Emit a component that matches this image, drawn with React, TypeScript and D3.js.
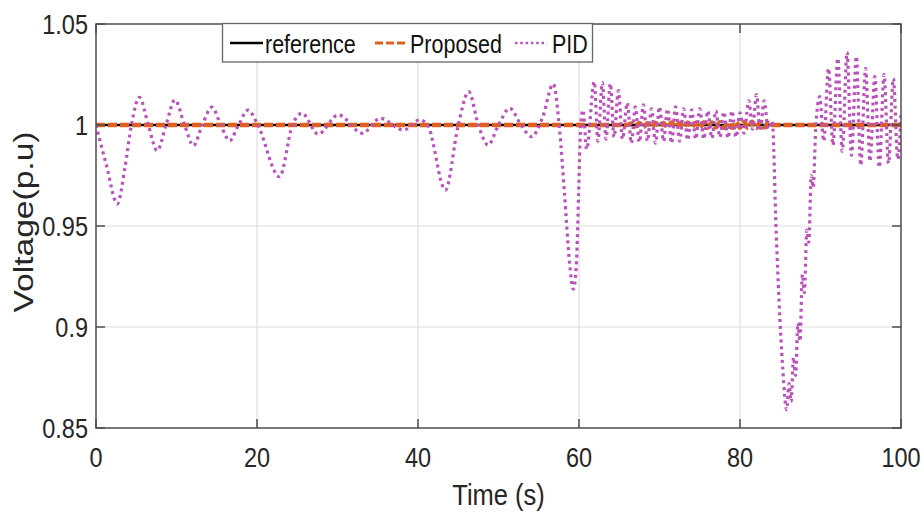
import React from 'react';
import * as d3 from 'd3';

type Pt = [number, number];

const X_TICKS = [0, 20, 40, 60, 80, 100];
const X_TICK_LABELS = ['0', '20', '40', '60', '80', '100'];
const Y_TICKS = [0.85, 0.9, 0.95, 1, 1.05];
const Y_TICK_LABELS = ['0.85', '0.9', '0.95', '1', '1.05'];
const X_GRID = [20, 40, 60, 80];
const Y_GRID = [0.9, 0.95, 1];
const SERIES_NAMES = ['reference', 'Proposed', 'PID'];
const X_LABEL = 'Time (s)';
const Y_LABEL = 'Voltage(p.u)';

const REFERENCE: Pt[] = [[0, 1], [100, 1]];

const PROPOSED: Pt[] = [
  [0, 1], [66, 1], [66.5, 1.0008], [67, 0.9993], [67.5, 1.001], [68, 0.9991], [68.5, 1.0009],
  [69, 0.999], [69.5, 1.0011], [70, 0.9992], [70.5, 1.001], [71, 0.9989], [71.5, 1.0012],
  [72, 0.999], [72.5, 1.001], [73, 0.9988], [73.5, 1.0012], [74, 0.9989], [74.5, 1.0011],
  [75, 0.9988], [75.5, 1.0013], [76, 0.9987], [76.5, 1.0012], [77, 0.9988], [77.5, 1.0013],
  [78, 0.9986], [78.5, 1.0012], [79, 0.9987], [79.5, 1.0014], [80, 0.9986], [80.5, 1.0015],
  [81, 0.9985], [81.5, 1.0016], [82, 0.9985], [82.5, 1.0014], [83, 0.9988], [83.5, 1.001],
  [84, 1], [100, 1],
];

const PID: Pt[] = [
  [0, 1.0], [1.3, 0.98], [2.65, 0.961], [3.6, 0.979], [4.4, 1.0], [5.4, 1.0137], [6.5, 1.0],
  [7.6, 0.9873], [8.7, 1.0], [9.8, 1.0124], [11.0, 1.0], [12.1, 0.9898], [13.2, 1.0],
  [14.4, 1.0088], [15.5, 1.0], [16.6, 0.9922], [17.7, 1.0], [18.9, 1.0074], [20.1, 1.0],
  [22.8, 0.9744], [24.4, 1.0], [25.6, 1.0058], [27.6, 0.9955], [30.1, 1.005], [33.1, 0.9959],
  [35.3, 1.0033], [38.2, 0.9975], [40.2, 1.0025], [41.2, 1.0], [43.4, 0.9678], [45.0, 1.0],
  [46.3, 1.0165], [47.5, 1.0], [48.7, 0.9901], [50.0, 1.0], [51.4, 1.0083], [52.8, 1.0],
  [54.1, 0.9942], [55.5, 1.004], [56.8, 1.0203], [57.6, 0.997], [58.2, 0.966], [58.8, 0.933],
  [59.3, 0.9187], [59.7, 0.933], [59.95, 0.966], [60.2, 0.999], [60.5, 1.0074], [60.95, 0.988],
  [61.9, 1.0215], [62.35, 0.992], [62.9, 1.021], [63.35, 0.993], [63.9, 1.0205], [64.35, 0.994],
  [64.9, 1.017], [65.4, 0.993], [66.0, 1.011], [66.5, 0.991], [67.0, 1.009], [67.5, 0.9915],
  [68.0, 1.01], [68.5, 0.992], [69.0, 1.008], [69.5, 0.991], [70.0, 1.009], [70.5, 0.992],
  [71.0, 1.008], [71.5, 0.991], [72.0, 1.009], [72.5, 0.992], [73.0, 1.008], [73.5, 0.9925],
  [74.0, 1.0075], [74.5, 0.993], [75.0, 1.008], [75.5, 0.993], [76.0, 1.007], [76.5, 0.9935],
  [77.0, 1.007], [77.5, 0.994], [78.0, 1.0065], [78.5, 0.9935], [79.0, 1.007], [79.5, 0.994],
  [80.0, 1.006], [80.5, 0.996], [81.1, 1.012], [81.55, 0.998], [82.05, 1.015], [82.5, 0.997],
  [83.0, 1.012], [83.5, 0.998], [84.0, 1.002], [84.5, 0.9465], [84.85, 0.913], [85.3, 0.88],
  [85.8, 0.859], [86.1, 0.872], [86.35, 0.863], [86.65, 0.885], [86.9, 0.876], [87.2, 0.902],
  [87.45, 0.893], [87.75, 0.926], [88.0, 0.917], [88.3, 0.948], [88.55, 0.942], [88.85, 0.975],
  [89.1, 0.969], [89.4, 0.998], [89.9, 1.014], [90.4, 0.992], [91.0, 1.028], [91.55, 0.99],
  [92.15, 1.033], [92.7, 0.987], [93.3, 1.036], [93.85, 0.985], [94.45, 1.034], [95.0, 0.98],
  [95.6, 1.028], [96.15, 0.982], [96.75, 1.024], [97.3, 0.979], [97.9, 1.025], [98.45, 0.981],
  [99.05, 1.023], [99.6, 0.983], [100, 1.005],
];

const W = 924;
const H = 512;
const L = 96;
const R = 901;
const T = 24;
const B = 428;
const SY = 1.18;
const FONT = '"Liberation Sans", Arial, Helvetica, sans-serif';

const C_REF = '#000000';
const C_PROP = '#e2601f';
const C_PID = '#bb52bb';
const C_AXIS = '#4e4e4e';
const C_TEXT = '#262626';
const C_GRID = '#dedede';

export default function App() {
  const x = d3.scaleLinear().domain([0, 100]).range([L, R]);
  const y = d3.scaleLinear().domain([0.85, 1.05]).range([B, T]);
  const straight = d3.line<Pt>().x((d) => x(d[0])).y((d) => y(d[1]));
  const smooth = d3
    .line<Pt>()
    .x((d) => x(d[0]))
    .y((d) => y(d[1]))
    .curve(d3.curveMonotoneX);

  const legY = 43;
  const legBase = 53;

  return (
    <svg
      width={W}
      height={H}
      viewBox={`0 0 ${W} ${H}`}
      style={{ position: 'absolute', left: 0, top: 0, display: 'block', background: '#fff' }}
      fontFamily={FONT}
    >
      <defs>
        <clipPath id="plotClip">
          <rect x={L} y={T} width={R - L} height={B - T} />
        </clipPath>
      </defs>
      <rect x={0} y={0} width={W} height={H} fill="#fff" />
      <rect x={L} y={T} width={R - L} height={B - T} fill="#fff" />

      {/* grid */}
      {X_GRID.map((g) => (
        <line key={'gx' + g} x1={x(g)} x2={x(g)} y1={T} y2={B} stroke={C_GRID} strokeWidth={1.2} />
      ))}
      {Y_GRID.map((g) => (
        <line key={'gy' + g} x1={L} x2={R} y1={y(g)} y2={y(g)} stroke={C_GRID} strokeWidth={1.2} />
      ))}

      {/* series */}
      <g clipPath="url(#plotClip)">
        <path d={straight(REFERENCE) || ''} fill="none" stroke={C_REF} strokeWidth={2.6} />
        <path
          d={smooth(PROPOSED) || ''}
          fill="none"
          stroke={C_PROP}
          strokeWidth={4.5}
          strokeDasharray="9 3"
        />
        <path
          d={smooth(PID) || ''}
          fill="none"
          stroke={C_PID}
          strokeWidth={3.2}
          strokeDasharray="3 3.8"
        />
      </g>

      {/* axes box */}
      <rect x={L} y={T} width={R - L} height={B - T} fill="none" stroke={C_AXIS} strokeWidth={1.5} />
      {X_TICKS.map((t) => (
        <g key={'xt' + t}>
          <line x1={x(t)} x2={x(t)} y1={B} y2={B - 9} stroke={C_AXIS} strokeWidth={1.5} />
          <line x1={x(t)} x2={x(t)} y1={T} y2={T + 9} stroke={C_AXIS} strokeWidth={1.5} />
        </g>
      ))}
      {Y_TICKS.map((t) => (
        <g key={'yt' + t}>
          <line x1={L} x2={L + 9} y1={y(t)} y2={y(t)} stroke={C_AXIS} strokeWidth={1.5} />
          <line x1={R} x2={R - 9} y1={y(t)} y2={y(t)} stroke={C_AXIS} strokeWidth={1.5} />
        </g>
      ))}

      {/* tick labels */}
      {X_TICKS.map((t, i) => (
        <text
          key={'xl' + t}
          transform={`translate(${x(t)},467) scale(1,${SY})`}
          textAnchor="middle"
          fontSize={23.5}
          fill={C_TEXT}
        >
          {X_TICK_LABELS[i]}
        </text>
      ))}
      {Y_TICKS.map((t, i) => (
        <text
          key={'yl' + t}
          transform={`translate(${L - 8},${y(t)}) scale(1,${SY})`}
          textAnchor="end"
          dy="0.36em"
          fontSize={23.5}
          fill={C_TEXT}
        >
          {Y_TICK_LABELS[i]}
        </text>
      ))}

      {/* axis labels */}
      <text
        transform={`translate(${(L + R) / 2},505) scale(1,1.14)`}
        textAnchor="middle"
        fontSize={25.5}
        fill={C_TEXT}
      >
        {X_LABEL}
      </text>
      <text
        transform={`translate(33,222) scale(1,1.2) rotate(-90)`}
        textAnchor="middle"
        fontSize={28}
        fill={C_TEXT}
      >
        {Y_LABEL}
      </text>

      {/* legend */}
      <g>
        <rect x={222.5} y={23.5} width={370} height={38.5} fill="#fff" stroke="#666" strokeWidth={1.3} />
        <line x1={230} x2={263} y1={legY} y2={legY} stroke={C_REF} strokeWidth={2.5} />
        <text transform={`translate(265,${legBase}) scale(1,${SY})`} fontSize={21.5} fill="#111">
          {SERIES_NAMES[0]}
        </text>
        <line
          x1={375}
          x2={406}
          y1={legY}
          y2={legY}
          stroke={C_PROP}
          strokeWidth={3}
          strokeDasharray="8 3"
        />
        <text transform={`translate(410,${legBase}) scale(1,${SY})`} fontSize={21.5} fill="#111">
          {SERIES_NAMES[1]}
        </text>
        <line
          x1={515}
          x2={547}
          y1={legY}
          y2={legY}
          stroke={C_PID}
          strokeWidth={2.5}
          strokeDasharray="2.5 2.8"
        />
        <text transform={`translate(552,${legBase}) scale(1,${SY})`} fontSize={21.5} fill="#111">
          {SERIES_NAMES[2]}
        </text>
      </g>
    </svg>
  );
}
